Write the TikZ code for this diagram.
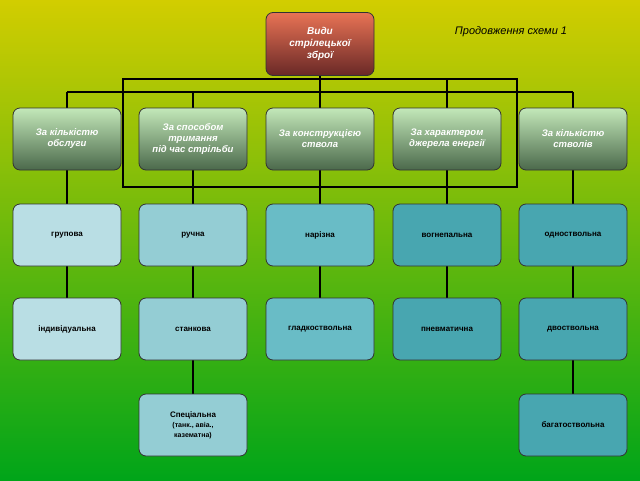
\documentclass[tikz,border=0pt]{standalone}
\usepackage{fontspec}
\setmainfont{Liberation Sans}
\begin{document}
\begin{tikzpicture}[x=1pt,y=-1pt,
 base/.style={draw=black!80,line width=0.8pt,rounded corners=7pt,minimum width=108pt,minimum height=62pt,align=center,inner sep=1pt},
 top/.style={base,top color={rgb,255:red,232;green,115;blue,85},bottom color={rgb,255:red,105;green,40;blue,38},text=white,font=\bfseries\itshape\fontsize{10}{12}\selectfont},
 cat/.style={base,top color={rgb,255:red,195;green,232;blue,185},bottom color={rgb,255:red,75;green,105;blue,75},text=white,font=\bfseries\itshape\fontsize{9.5}{11}\selectfont},
 leaf/.style={base,font=\bfseries\fontsize{8}{10}\selectfont},
 la/.style={leaf,fill={rgb,255:red,185;green,222;blue,228}},
 lb/.style={leaf,fill={rgb,255:red,148;green,205;blue,212}},
 lc/.style={leaf,fill={rgb,255:red,105;green,188;blue,198}},
 ld/.style={leaf,fill={rgb,255:red,72;green,166;blue,176}},
 ln/.style={line width=1.4pt,black}]
\shade[top color={rgb,255:red,210;green,205;blue,0},bottom color={rgb,255:red,0;green,165;blue,25}] (0,0) rectangle (640,480);
\useasboundingbox (0,0) rectangle (640,480);
\node[font=\itshape\fontsize{11}{13}\selectfont] (ttl) at (511,32) {Продовження схеми 1};
% connectors first
\coordinate (b1) at (67,92); \coordinate (b5) at (573,92);
\coordinate (r1) at (123,79); \coordinate (r2) at (517,187);
\draw[ln] (320,44) -- (320,92);
\draw[ln] (b1) -- (b5);
\draw[ln] (123,79) rectangle (517,187);
\draw[ln] (67,92) -- (67,298);
\draw[ln] (193,92) -- (193,394);
\draw[ln] (320,92) -- (320,298);
\draw[ln] (447,79) -- (447,298);
\draw[ln] (573,92) -- (573,394);
\node[top,minimum height=63pt] (root) at (320,44) {Види\\стрілецької\\збрoї};
\node[cat] (c1) at (67,139) {За кількістю\\обслуги};
\node[cat] (c2) at (193,139) {За способом\\тримання\\під час стрільби};
\node[cat] (c3) at (320,139) {За конструкцією\\ствола};
\node[cat] (c4) at (447,139) {За характером\\джерела енергії};
\node[cat] (c5) at (573,139) {За кількістю\\стволів};
\node[la] (g1) at (67,235) {групова};
\node[lb] (g2) at (193,235) {ручна};
\node[lc] (g3) at (320,235) {нарізна};
\node[ld] (g4) at (447,235) {вогнепальна};
\node[ld] (g5) at (573,235) {одноствольна};
\node[la] (h1) at (67,329) {індивідуальна};
\node[lb] (h2) at (193,329) {станкова};
\node[lc] (h3) at (320,329) {гладкоствольна};
\node[ld] (h4) at (447,329) {пневматична};
\node[ld] (h5) at (573,329) {двоствольна};
\node[lb] (k2) at (193,425) {Спеціальна\\{\fontsize{7}{9}\selectfont(танк., авіа.,}\\{\fontsize{7}{9}\selectfont казематна)}};
\node[ld] (k5) at (573,425) {багатоствольна};
\end{tikzpicture}
\end{document}
